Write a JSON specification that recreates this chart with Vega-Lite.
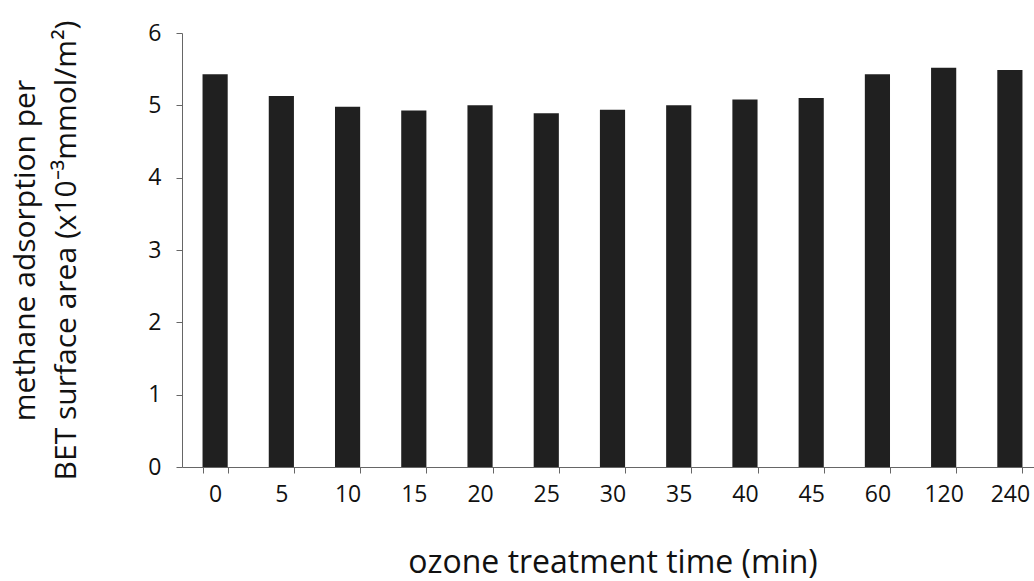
{
  "$schema": "https://vega.github.io/schema/vega-lite/v6.json",
  "autosize": {"type": "none"},
  "width": 852,
  "height": 434,
  "padding": {"left": 182, "top": 33, "right": 0, "bottom": 114},
  "background": "white",
  "config": {
    "view": {"stroke": null},
    "font": "Open Sans",
    "axis": {
      "domainColor": "#666666",
      "tickColor": "#666666",
      "labelColor": "#111111",
      "titleColor": "#111111",
      "labelFont": "Open Sans",
      "titleFont": "Open Sans",
      "titleFontWeight": 500,
      "labelFontWeight": 500,
      "grid": false
    }
  },
  "data": {
    "values": [
      {"time": "0", "adsorption": 5.43},
      {"time": "5", "adsorption": 5.13},
      {"time": "10", "adsorption": 4.98},
      {"time": "15", "adsorption": 4.93},
      {"time": "20", "adsorption": 5.0},
      {"time": "25", "adsorption": 4.89},
      {"time": "30", "adsorption": 4.94},
      {"time": "35", "adsorption": 5.0},
      {"time": "40", "adsorption": 5.08},
      {"time": "45", "adsorption": 5.1},
      {"time": "60", "adsorption": 5.43},
      {"time": "120", "adsorption": 5.52},
      {"time": "240", "adsorption": 5.49}
    ]
  },
  "mark": {"type": "bar", "color": "#202020"},
  "encoding": {
    "x": {
      "field": "time",
      "type": "ordinal",
      "sort": null,
      "scale": {"range": [0, 861], "paddingInner": 0.62, "paddingOuter": 0.31},
      "axis": {
        "title": "ozone treatment time (min)",
        "titleFontSize": 32,
        "titlePadding": 41,
        "labelFontSize": 23,
        "labelAngle": 0,
        "labelPadding": 10,
        "tickBand": "extent",
        "tickSize": 6,
        "domainWidth": 1
      }
    },
    "y": {
      "field": "adsorption",
      "type": "quantitative",
      "scale": {"domain": [0, 6], "nice": false},
      "axis": {
        "title": ["methane adsorption per", "BET surface area (x10⁻³mmol/m²)"],
        "titleFontSize": 30,
        "titleLineHeight": 41,
        "titlePadding": 66,
        "labelFontSize": 23,
        "labelPadding": 15,
        "values": [0, 1, 2, 3, 4, 5, 6],
        "tickSize": 6
      }
    }
  }
}
